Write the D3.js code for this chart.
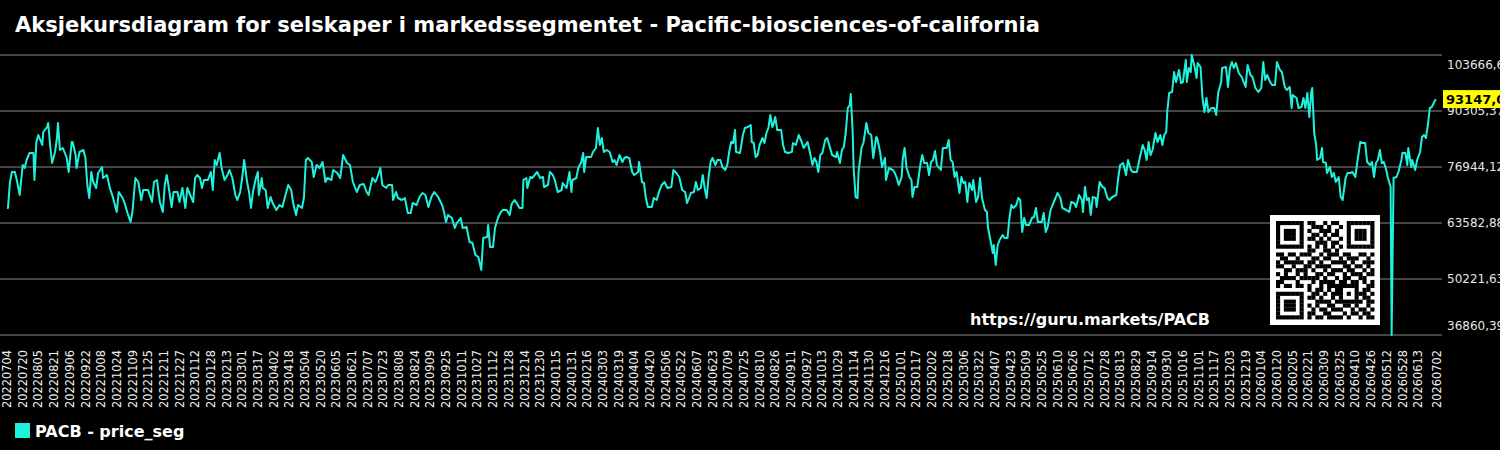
<!DOCTYPE html>
<html><head><meta charset="utf-8">
<script src="https://cdn.jsdelivr.net/npm/d3@7/dist/d3.min.js"></script>
<style>html,body{margin:0;padding:0;background:#000;}svg{display:block;}</style>
</head><body>
<svg id="chart" width="1500" height="450"></svg>
<script>
const titleText = "Aksjekursdiagram for selskaper i markedssegmentet - Pacific-biosciences-of-california";
const seriesName = "PACB - price_seg";
const sourceUrl = "https://guru.markets/PACB";
const startDate = "20220704";
const endDate = "20260702";
const xTickLabels = ["20220704","20220720","20220805","20220821","20220906","20220922","20221008","20221024","20221109","20221125","20221211","20221227","20230112","20230128","20230213","20230301","20230317","20230402","20230418","20230504","20230520","20230605","20230621","20230707","20230723","20230808","20230824","20230909","20230925","20231011","20231027","20231112","20231128","20231214","20231230","20240115","20240131","20240216","20240303","20240319","20240404","20240420","20240506","20240522","20240607","20240623","20240709","20240725","20240810","20240826","20240911","20240927","20241013","20241029","20241114","20241130","20241216","20250101","20250117","20250202","20250218","20250306","20250322","20250407","20250423","20250509","20250525","20250610","20250626","20250712","20250728","20250813","20250829","20250914","20250930","20251016","20251101","20251117","20251203","20251219","20260104","20260120","20260205","20260221","20260309","20260325","20260410","20260426","20260512","20260528","20260613","20260702"];
const yTickValues = [36860.39, 50221.63, 63582.88, 76944.12, 90305.37, 103666.60];
const lastPrice = 93147.03;
// [day offset from startDate, price]
const priceSeries = [
[0,67161],[1,67161],[3,73365],[5,75751],[8,75751],[10,73842],[13,70263],[16,77421],[18,76705],[20,78614],[23,80284],[27,80284],[28,73842],[30,82909],[32,84579],[36,82193],[37,85295],[41,86488],[42,87442],[44,82193],[46,77898],[49,80523],[51,83863],[52,87442],[54,81000],[57,81477],[61,79091],[63,75751],[66,82909],[67,82909],[70,79807],[71,76705],[74,80523],[78,81000],[80,79091],[82,72649],[84,69547],[86,75751],[88,73365],[91,71933],[93,75512],[97,76944],[98,74319],[102,75035],[105,71933],[108,69786],[112,66207],[114,70979],[118,69547],[120,68354],[123,65968],[126,63821],[128,66207],[131,74319],[134,73365],[137,69070],[139,71456],[144,71456],[148,68593],[150,73365],[153,73842],[156,68593],[159,66207],[161,72649],[163,75035],[165,72172],[168,67400],[170,70979],[174,70979],
[176,68593],[179,71933],[182,67161],[184,71933],[187,70263],[190,68593],[192,74319],[194,75035],[197,74319],[199,71933],[201,73842],[205,73842],[208,75751],[210,71456],[212,78614],[214,77421],[217,80284],[219,76705],[222,73842],[225,75035],[227,76228],[230,74319],[233,70263],[235,69070],[238,70979],[240,74319],[242,78614],[245,73365],[247,70979],[249,67161],[251,70979],[254,74319],[256,75751],[257,70263],[260,74319],[261,71933],[264,71456],[266,67161],[269,69786],[271,68354],[275,66684],[278,67877],[281,67400],[285,70979],[287,72649],[290,71456],[292,68354],[295,65491],[297,67877],[301,67161],[303,69547],[305,78614],[307,79091],[311,78137],[313,74558],[316,77421],[319,76705],[322,78137],[325,73365],[327,74319],[331,73842],[333,76228],[337,75512],[340,74319],[343,79807],[347,77898],[350,77421],[353,73365],[357,70979],[360,72649],
[364,72888],[367,70979],[369,70263],[373,74319],[376,73365],[378,74558],[381,76705],[383,72649],[387,71933],[389,72649],[393,72649],[394,69070],[397,70979],[399,69547],[403,69070],[406,69547],[409,65968],[412,65968],[414,68354],[418,67877],[421,69786],[424,70740],[427,70263],[430,67400],[433,69786],[436,70979],[440,69786],[444,67877],[446,66207],[448,63821],[450,65491],[454,64775],[457,62390],[459,63582],[463,64775],[465,62390],[469,62628],[472,59050],[475,58811],[478,55949],[481,55472],[484,52370],[486,60004],[490,60243],[491,63105],[493,57857],[496,57857],[498,62390],[501,64775],[504,66207],[506,66684],[510,66684],[513,65491],[515,68115],[518,69070],[520,68354],[523,67161],[526,67161],[527,73842],[530,74319],[531,71933],[534,74558],[536,74319],[541,75751],[544,74319],
[547,74558],[548,72172],[552,72649],[554,75751],[557,75035],[559,73842],[562,70979],[566,71456],[567,73126],[571,71933],[574,75751],[576,70979],[577,73842],[581,74319],[583,76705],[586,78137],[588,80284],[589,75751],[591,79330],[596,79330],[598,80523],[601,81477],[603,86249],[605,82193],[607,83863],[609,80523],[612,81000],[615,80523],[618,78137],[620,78614],[622,77421],[625,79807],[628,78137],[630,79091],[632,79330],[635,79091],[638,75751],[640,75035],[644,75751],[645,78137],[648,73365],[650,73126],[652,69547],[654,67400],[658,67400],[660,69547],[663,69070],[665,70740],[668,72649],[671,73365],[674,71933],[678,72172],[680,76228],[683,75512],[686,74558],[689,71456],[692,70979],[694,68354],[698,70740],[701,70979],[703,73365],[705,71456],[708,71933],[710,75035],[712,71933],[714,69547],[716,74558],[718,78137],[720,79091],[723,77421],[725,78614],[728,78614],
[730,76944],[733,76228],[735,77421],[737,80523],[739,82909],[741,82670],[743,85772],[744,80523],[748,80284],[751,84579],[753,86249],[756,86488],[759,86965],[760,82909],[762,82670],[764,79330],[766,79807],[768,82193],[771,83863],[773,82670],[775,85056],[777,86249],[779,89351],[781,86488],[782,86965],[784,88874],[786,85772],[790,85772],[792,82193],[794,80523],[797,80284],[801,80523],[802,82670],[805,82193],[808,84579],[811,82909],[813,81477],[815,82193],[817,82909],[820,79807],[822,77421],[824,79091],[826,78137],[828,75751],[830,79807],[832,80284],[835,83386],[837,83863],[840,81477],[842,79807],[846,79330],[847,80523],[850,77898],[852,81000],[854,81716],[856,85295],[858,91021],[860,91737],[861,94362],[863,85295],[864,76705],[866,69786],[868,69547],[869,75751],[872,81477],[874,82670],[877,87442],[879,85056],[882,84579],[884,79091],[887,84102],[888,83863],[891,80523],[893,76944],[896,79091],[897,73842],[900,76705],[904,76228],[906,75512],[908,74319],[910,72649],[913,74558],
[914,78614],[916,81477],[918,76705],[921,74558],[923,73842],[924,69786],[926,72172],[929,72172],[932,77421],[934,79807],[936,77898],[939,77898],[941,75035],[943,78137],[945,78614],[947,80761],[949,77421],[953,76228],[955,81477],[959,81477],[961,83386],[963,78614],[965,78137],[967,74558],[969,75751],[972,70740],[974,74558],[976,73126],[978,73365],[980,68593],[982,73126],[985,71456],[986,73842],[989,68593],[991,69786],[993,74319],[995,69547],[998,66684],[1000,66207],[1001,62628],[1003,60243],[1006,56426],[1007,58334],[1009,53563],[1011,58334],[1013,59527],[1016,60720],[1018,60004],[1021,60004],[1023,64775],[1025,67877],[1027,67161],[1030,67877],[1032,69547],[1034,69070],[1036,61435],[1038,64775],[1040,63105],[1043,63105],[1046,64775],[1048,65014],[1050,67161],[1052,63821],[1056,63821],[1058,65968],[1060,61435],[1062,62628],[1065,66684],[1067,67877],[1070,69547],[1072,70740],[1075,69547],[1077,67161],[1081,66684],[1084,66207],[1086,68593],[1089,68354],[1091,67400],[1094,70263],
[1097,69070],[1098,66207],[1100,72172],[1102,69070],[1104,69547],[1106,65491],[1108,69786],[1111,69547],[1112,67400],[1115,73365],[1118,72172],[1120,71933],[1123,69547],[1125,69070],[1128,69786],[1132,70263],[1134,74319],[1136,77421],[1139,77898],[1142,75035],[1144,78614],[1147,76228],[1149,75751],[1153,75751],[1156,79091],[1159,82193],[1161,81000],[1163,78614],[1165,82909],[1167,79807],[1169,81000],[1172,85056],[1174,82909],[1177,84579],[1179,82193],[1181,84579],[1183,85295],[1184,90067],[1186,94600],[1189,94839],[1191,99611],[1193,97225],[1196,100088],[1198,96986],[1200,97225],[1203,102474],[1204,97225],[1206,100565],[1208,99611],[1209,103666.6],[1212,100804],[1214,98179],[1215,101758],[1218,100804],[1220,93407],[1222,90067],[1224,93407],[1226,90067],[1229,91021],[1232,91021],[1234,89351],[1236,94600],[1239,97225],[1240,100565],[1244,100804],[1246,96032],[1248,100565],[1250,101997],[1252,100565],[1254,101758],[1257,99372],[1260,98418],[1264,96032],[1266,101281],[1269,98895],[1271,98418],[1274,95793],[1277,94839],[1280,95793],
[1282,101997],[1284,97702],[1286,98895],[1289,97225],[1291,96509],[1294,96509],[1296,101997],[1299,100088],[1301,99611],[1304,96032],[1306,95316],[1309,96032],[1311,91021],[1312,94123],[1316,93407],[1318,91021],[1321,91260],[1323,93407],[1325,91021],[1327,94600],[1329,88874],[1331,94839],[1332,95793],[1334,85056],[1336,82193],[1337,78614],[1340,79091],[1342,81477],[1343,78137],[1346,77898],[1347,75512],[1350,76944],[1352,74558],[1354,75512],[1356,73365],[1359,74558],[1361,69786],[1363,69070],[1366,74319],[1368,75512],[1371,75512],[1373,75751],[1376,74558],[1378,78137],[1381,82909],[1383,82670],[1386,82670],[1388,78137],[1391,77421],[1393,78137],[1395,74558],[1397,77898],[1399,78614],[1401,81000],[1403,77898],[1405,78137],[1407,76705],[1409,74558],[1412,72172],[1413,36860.39],[1415,74319],[1418,74558],[1420,75751],[1423,78614],[1424,80284],[1427,80284],[1429,77421],[1430,81477],[1433,76944],[1434,78614],[1437,76228],[1439,78614],[1442,80523],[1444,84102],[1446,84579],[1448,83863],[1450,86965],[1452,91021],[1454,91260],[1458,93147.03]
];
const qrRows = [
"1111111"+"0"+"110010110"+"0"+"1111111",
"1000001"+"0"+"011101001"+"0"+"1000001",
"1011101"+"0"+"100111010"+"0"+"1011101",
"1011101"+"0"+"011010110"+"0"+"1011101",
"1011101"+"0"+"110101001"+"0"+"1011101",
"1000001"+"0"+"001110110"+"0"+"1000001",
"1111111"+"0"+"101010101"+"0"+"1111111",
"0000000"+"0"+"110011010"+"0"+"0000000",
"1101101110010111011001101",
"0110010001101100101110010",
"1011111011010011110100111",
"1100100110111100011011010",
"0011011101001011101100101",
"1010010100110110010111011",
"0111101111101001011001100",
"1100010001011110110110101",
"1011011010010111111110011",
"0000000010110101100010110",
"1111111"+"0"+"01101011"+"10101"+"1101",
"1000001"+"0"+"11010010"+"10001"+"0110",
"1011101"+"0"+"00111101"+"11111"+"1011",
"1011101"+"0"+"10100110"+"01101"+"0010",
"1011101"+"0"+"01011011"+"10010"+"1101",
"1000001"+"0"+"11001100"+"01011"+"0110",
"1111111"+"0"+"10110111"+"10100"+"1011"
];

const FONT = "'DejaVu Sans', Verdana, sans-serif";
const lineColor = "#1ff2dc";
const svg = d3.select("#chart");
svg.append("rect").attr("width",1500).attr("height",450).attr("fill","#000");

const parse = d3.utcParse("%Y%m%d");
const t0 = parse(startDate);
const totalDays = d3.utcDay.count(t0, parse(endDate));

const x = d3.scaleLinear().domain([0, totalDays]).range([7, 1436.7]);
const y = d3.scaleLinear().domain([yTickValues[0], yTickValues[yTickValues.length-1]]).range([335, 55]);
const fmt = v => d3.format(".2f")(v).replace(".", ",");

// gridlines
svg.append("g").selectAll("line").data(yTickValues).join("line")
  .attr("x1", 0).attr("x2", 1442)
  .attr("y1", d => y(d)).attr("y2", d => y(d))
  .attr("stroke", "#5c5c5c").attr("stroke-width", 1.6);

// y labels (right)
svg.append("g").selectAll("text").data(yTickValues).join("text")
  .attr("x", 1447)
  .attr("y", d => Math.min(Math.max(y(d), 65), 325.5))
  .attr("dy", "0.36em")
  .attr("fill", "#e6e6e6").attr("font-family", FONT).attr("font-size", 12)
  .text(d => fmt(d));

// x labels
svg.append("g").selectAll("text").data(xTickLabels).join("text")
  .attr("transform", d => `translate(${x(d3.utcDay.count(t0, parse(d)))},350) rotate(-90)`)
  .attr("text-anchor", "end").attr("dy", "0.36em")
  .attr("fill", "#f0f0f0").attr("font-family", FONT).attr("font-size", 11.4)
  .text(d => d);

// line
const line = d3.line().x(d => x(d[0])).y(d => y(d[1]));
svg.append("path").datum(priceSeries)
  .attr("d", line).attr("fill", "none")
  .attr("stroke", lineColor).attr("stroke-width", 2).attr("stroke-linejoin", "round");

// last value badge
const by = y(lastPrice);
svg.append("rect").attr("x", 1443).attr("y", by - 9).attr("width", 60).attr("height", 18).attr("fill", "#ffff00");
svg.append("text").attr("x", 1446).attr("y", by).attr("dy", "0.36em")
  .attr("fill", "#000").attr("font-family", FONT).attr("font-weight", "bold").attr("font-size", 13)
  .text(fmt(lastPrice));

// title
svg.append("text").attr("x", 15).attr("y", 32)
  .attr("fill", "#fff").attr("font-family", FONT).attr("font-weight", "bold").attr("font-size", 21)
  .text(titleText);

// url
svg.append("text").attr("x", 970).attr("y", 325)
  .attr("fill", "#fff").attr("font-family", FONT).attr("font-weight", "bold").attr("font-size", 16)
  .text(sourceUrl);

// QR
const qx = 1270, qy = 215, qs = 110, m = 3.93, off = 6;
const qg = svg.append("g");
qg.append("rect").attr("x", qx).attr("y", qy).attr("width", qs).attr("height", qs).attr("fill", "#fff");
qrRows.forEach((row, r) => {
  row.split("").forEach((c, col) => {
    if (c === "1") qg.append("rect")
      .attr("x", qx + off + col * m).attr("y", qy + off + r * m)
      .attr("width", m + 0.2).attr("height", m + 0.2).attr("fill", "#000");
  });
});

// legend
svg.append("rect").attr("x", 15).attr("y", 423).attr("width", 15).attr("height", 15).attr("fill", lineColor);
svg.append("text").attr("x", 35).attr("y", 436.5)
  .attr("fill", "#fff").attr("font-family", FONT).attr("font-weight", "bold").attr("font-size", 16)
  .text(seriesName);
</script>
</body></html>
